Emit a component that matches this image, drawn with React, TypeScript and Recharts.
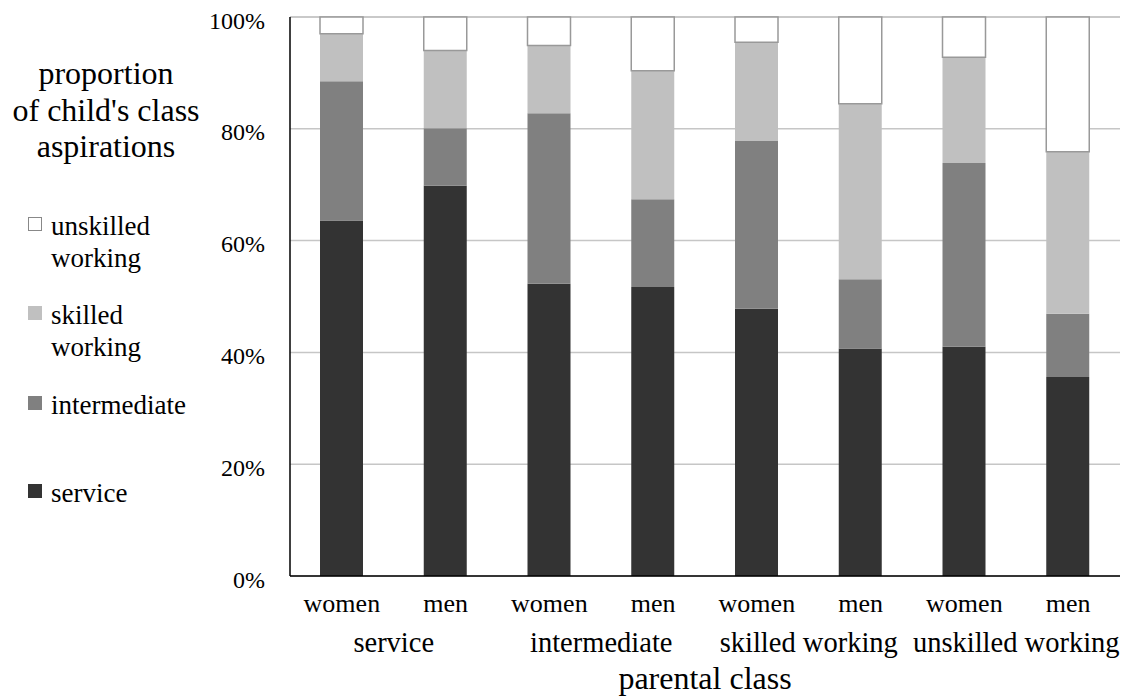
import React from 'react';
import { BarChart, Bar, XAxis, YAxis, CartesianGrid, Legend } from 'recharts';

// ---- data ----
const genders = ['women', 'men', 'women', 'men', 'women', 'men', 'women', 'men'];
const parentalClass = [
  'service', 'service',
  'intermediate', 'intermediate',
  'skilled working', 'skilled working',
  'unskilled working', 'unskilled working',
];
const serviceVals = [63.6, 69.8, 52.3, 51.7, 47.8, 40.7, 41.0, 35.6];
const intermediateVals = [24.9, 10.3, 30.5, 15.7, 30.0, 12.4, 32.9, 11.3];
const skilledVals = [8.5, 13.9, 12.1, 23.0, 17.7, 31.4, 18.9, 29.0];
const unskilledVals = [3.0, 6.0, 5.1, 9.6, 4.5, 15.5, 7.2, 24.1];

const yTicks = [0, 20, 40, 60, 80, 100];
const groupBoundaryTicks = [2, 6, 8];
const titleLines = ['proportion', "of child's class", 'aspirations'];
const xAxisTitle = 'parental class';

const seriesKeys = ['service', 'intermediate', 'skilled', 'unskilled'];
const seriesNames = ['service', 'intermediate', 'skilled working', 'unskilled working'];
const seriesFills = ['#333333', '#808080', '#c0c0c0', '#ffffff'];
const seriesStrokes = ['none', 'none', 'none', '#999999'];

const data = genders.map((g, i) => ({
  gender: g,
  group: parentalClass[i],
  service: serviceVals[i],
  intermediate: intermediateVals[i],
  skilled: skilledVals[i],
  unskilled: unskilledVals[i],
}));

const FONT = "'Liberation Serif', 'Times New Roman', 'DejaVu Serif', serif";
const txt = (size: number): React.CSSProperties => ({ fontFamily: FONT, fontSize: size });

const YTick = (props: any) => {
  const { x, y, payload } = props;
  return (
    <text x={x + 1} y={y + 11.5} textAnchor="end" style={txt(24)} fill="#000">
      {`${payload.value}%`}
    </text>
  );
};

const GenderTick = (props: any) => {
  const { x, y, payload } = props;
  return (
    <text x={x} y={y + 28} textAnchor="middle" style={txt(26)} fill="#000">
      {payload.value}
    </text>
  );
};

const GroupTick = (props: any) => {
  const { x, y, payload } = props;
  return (
    <text x={x} y={y + 30} textAnchor="middle" style={txt(28.5)} fill="#000">
      {payload.value}
    </text>
  );
};

const NoTick = () => <g />;

const AxisTitle = (props: any) => {
  const vb = props.viewBox || {};
  return (
    <text x={vb.x + vb.width / 2} y={vb.y + 75} textAnchor="middle" style={txt(32)} fill="#000">
      {xAxisTitle}
    </text>
  );
};

const legendBaselines = [235, 324, 414, 502];

const renderLegend = (props: any) => {
  const payload = props.payload || [];
  const order = [...seriesKeys].reverse();
  return (
    <svg width={280} height={560} style={{ display: 'block' }}>
      {titleLines.map((t, i) => (
        <text key={t} x={106} y={84 + i * 36.7} textAnchor="middle" style={txt(32)} fill="#000">
          {t}
        </text>
      ))}
      {order.map((key, i) => {
        const idx = seriesKeys.indexOf(key);
        const entry = payload.find((p: any) => p.dataKey === key);
        const label = entry ? String(entry.value) : seriesNames[idx];
        const by = legendBaselines[i];
        const lines = label.split(' ');
        return (
          <g key={key}>
            <rect
              x={28.5}
              y={by - 17.5}
              width={13}
              height={13}
              fill={seriesFills[idx]}
              stroke={seriesStrokes[idx] === 'none' ? seriesFills[idx] : '#888'}
              strokeWidth={1}
            />
            {lines.map((l, j) => (
              <text key={j} x={51} y={by + j * 32} style={txt(27)} fill="#000">
                {l}
              </text>
            ))}
          </g>
        );
      })}
    </svg>
  );
};

export default function App() {
  return (
    <div style={{ position: 'absolute', left: 0, top: 0, width: 1141, height: 697, background: '#fff' }}>
      <BarChart
        width={1141}
        height={697}
        data={data}
        margin={{ top: 17, right: 21, left: 230, bottom: 26 }}
      >
        <CartesianGrid vertical={false} stroke="#c6c6c6" strokeWidth={1.5} />
        <YAxis
          type="number"
          domain={[0, 100]}
          ticks={yTicks}
          width={60}
          tickLine={false}
          tickMargin={20}
          axisLine={{ stroke: '#000', strokeWidth: 1.5 }}
          tick={<YTick />}
          interval={0}
        />
        <XAxis
          xAxisId={0}
          type="number"
          domain={[0, 8]}
          allowDataOverflow
          ticks={groupBoundaryTicks}
          interval={0}
          height={0}
          axisLine={false}
          tickLine={{ stroke: '#000', strokeWidth: 1.5 }}
          tickSize={7}
          tick={<NoTick />}
        />
        <XAxis
          xAxisId={1}
          dataKey="gender"
          height={38}
          interval={0}
          tickLine={false}
          axisLine={{ stroke: '#000', strokeWidth: 1.5 }}
          tick={<GenderTick />}
        />
        <XAxis
          xAxisId={2}
          dataKey="group"
          allowDuplicatedCategory={false}
          height={57}
          interval={0}
          tickLine={false}
          axisLine={false}
          tick={<GroupTick />}
          label={<AxisTitle />}
        />
        <Legend
          layout="horizontal"
          verticalAlign="middle"
          align="center"
          content={renderLegend}
          wrapperStyle={{ left: 0, top: 0, width: 280, height: 560 }}
        />
        {seriesKeys.map((k, i) => (
          <Bar
            key={k}
            xAxisId={1}
            dataKey={k}
            name={seriesNames[i]}
            stackId="a"
            barSize={43}
            fill={seriesFills[i]}
            stroke={seriesStrokes[i]}
            strokeWidth={seriesStrokes[i] === 'none' ? 0 : 1.5}
            isAnimationActive={false}
          />
        ))}
      </BarChart>
    </div>
  );
}
